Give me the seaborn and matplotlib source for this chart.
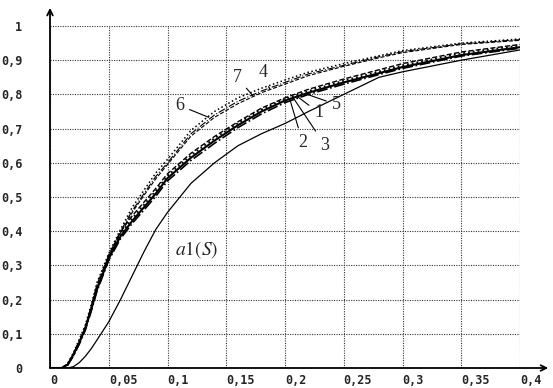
import numpy as np
import pandas as pd
import matplotlib
matplotlib.use("Agg")
import matplotlib.pyplot as plt
import seaborn as sns

# values
s_vals = [0, 0.01, 0.015, 0.02, 0.025, 0.03, 0.035, 0.04, 0.05, 0.06, 0.07, 0.08, 0.09,
          0.1, 0.12, 0.14, 0.16, 0.18, 0.2, 0.22, 0.25, 0.28, 0.3, 0.35, 0.4]

curve_1 = [0, 0, 0.01, 0.04, 0.075, 0.115, 0.17, 0.23, 0.32, 0.385, 0.43, 0.47, 0.51,
           0.555, 0.615, 0.665, 0.71, 0.75, 0.782, 0.805, 0.835, 0.862, 0.88, 0.915, 0.938]
curve_2 = [0, 0, 0.008, 0.036, 0.07, 0.11, 0.165, 0.225, 0.315, 0.378, 0.423, 0.462, 0.502,
           0.547, 0.607, 0.657, 0.703, 0.743, 0.776, 0.8, 0.83, 0.858, 0.876, 0.912, 0.935]
curve_3 = [0, 0, 0.012, 0.042, 0.078, 0.118, 0.175, 0.235, 0.325, 0.392, 0.437, 0.478, 0.518,
           0.562, 0.622, 0.672, 0.716, 0.756, 0.787, 0.81, 0.84, 0.867, 0.885, 0.92, 0.943]
curve_5 = [0, 0, 0.01, 0.04, 0.076, 0.117, 0.172, 0.233, 0.33, 0.398, 0.445, 0.485, 0.525,
           0.568, 0.628, 0.677, 0.72, 0.76, 0.79, 0.815, 0.845, 0.872, 0.89, 0.924, 0.946]
curve_4 = [0, 0, 0.008, 0.035, 0.075, 0.115, 0.175, 0.24, 0.325, 0.395, 0.455, 0.505, 0.553,
           0.595, 0.678, 0.733, 0.773, 0.805, 0.83, 0.855, 0.882, 0.907, 0.922, 0.946, 0.958]
curve_6 = [0, 0, 0.012, 0.045, 0.085, 0.125, 0.185, 0.25, 0.335, 0.405, 0.47, 0.52, 0.57,
           0.61, 0.695, 0.75, 0.79, 0.818, 0.842, 0.865, 0.89, 0.913, 0.928, 0.95, 0.962]
curve_7 = [0, 0, 0.01, 0.04, 0.08, 0.12, 0.18, 0.245, 0.33, 0.40, 0.46, 0.51, 0.56,
           0.60, 0.685, 0.74, 0.78, 0.81, 0.835, 0.86, 0.885, 0.91, 0.925, 0.948, 0.96]
curve_a1 = [0, 0, 0, 0.004, 0.016, 0.034, 0.056, 0.082, 0.135, 0.2, 0.27, 0.34, 0.405,
            0.455, 0.54, 0.6, 0.65, 0.685, 0.715, 0.75, 0.80, 0.85, 0.866, 0.90, 0.93]

x_ticks = [0, 0.05, 0.1, 0.15, 0.2, 0.25, 0.3, 0.35, 0.4]
x_tick_labels = ["0", "0,05", "0,1", "0,15", "0,2", "0,25", "0,3", "0,35", "0,4"]
y_ticks = [0, 0.1, 0.2, 0.3, 0.4, 0.5, 0.6, 0.7, 0.8, 0.9, 1]
y_tick_labels = ["0", "0,1", "0,2", "0,3", "0,4", "0,5", "0,6", "0,7", "0,8", "0,9", "1"]

# curve labels: (text, label position, point on curve)
curve_labels = [
    ("6", (0.110, 0.768), (0.135, 0.733)),
    ("7", (0.159, 0.850), (0.173, 0.795)),
    ("4", (0.181, 0.865), (0.187, 0.815)),
    ("1", (0.229, 0.746), (0.210, 0.795)),
    ("5", (0.244, 0.770), (0.219, 0.800)),
    ("2", (0.215, 0.660), (0.204, 0.787)),
    ("3", (0.234, 0.652), (0.207, 0.790)),
]

sns.set_style("white")
plt.rcParams["mathtext.fontset"] = "stix"

fig = plt.figure(figsize=(5.53, 3.88), dpi=100)
ax = fig.add_axes([50 / 553, 1 - 368 / 388, 470 / 553, 342 / 388])

styles = [
    (curve_2, "-.", 1.2),
    (curve_3, ":", 1.3),
    (curve_5, "--", 1.0),
    (curve_1, "-", 1.5),
    (curve_4, "--", 0.8),
    (curve_6, ":", 1.1),
    (curve_7, "-.", 0.8),
    (curve_a1, "-", 0.9),
]
for ys, ls, lw in styles:
    sns.lineplot(x=s_vals, y=ys, ax=ax, color="black", linestyle=ls, linewidth=lw)

ax.set_xlim(0, 0.4)
ax.set_ylim(0, 1)
ax.set_xticks(x_ticks)
ax.set_xticklabels(x_tick_labels)
ax.set_yticks(y_ticks)
ax.set_yticklabels(y_tick_labels)
ax.tick_params(axis="both", length=0, labelsize=8.5)
ax.tick_params(axis="x", pad=4)
ax.tick_params(axis="y", pad=20)
for lab in ax.get_xticklabels():
    lab.set_horizontalalignment("left")
for lab in ax.get_xticklabels() + ax.get_yticklabels():
    lab.set_fontfamily("DejaVu Sans Mono")
    lab.set_fontweight("bold")

ax.grid(True, linestyle=(0, (1, 1.2)), color="#333333", linewidth=0.8)
for sp in ax.spines.values():
    sp.set_visible(False)

# axes with arrows
ax.annotate("", xy=(0, 1.053), xytext=(0, 0), xycoords="axes fraction",
            arrowprops=dict(arrowstyle="->", color="black", lw=1.3, shrinkA=0, shrinkB=0),
            annotation_clip=False)
ax.annotate("", xy=(1.06, 0), xytext=(0, 0), xycoords="axes fraction",
            arrowprops=dict(arrowstyle="->", color="black", lw=1.3, shrinkA=0, shrinkB=0),
            annotation_clip=False)

for txt, pos, pt in curve_labels:
    ax.annotate(txt, xy=pt, xytext=pos, ha="center", va="center",
                fontsize=13, fontname="Liberation Serif",
                arrowprops=dict(arrowstyle="-", color="black", lw=0.8, shrinkB=0))

ax.text(0.1065, 0.345, r"$a\mathrm{1}(S)$", fontsize=14, ha="left", va="center")

fig.savefig("out.png", dpi=100)
